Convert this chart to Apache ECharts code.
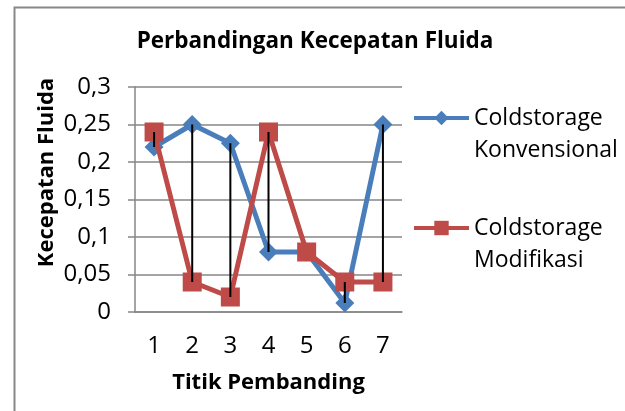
<!DOCTYPE html>
<html>
<head>
<meta charset="utf-8">
<script src="https://cdn.jsdelivr.net/npm/echarts@6/dist/echarts.min.js"></script>
<style>html,body{margin:0;padding:0;background:#fff}#c{width:625px;height:411px}</style>
</head>
<body>
<div id="c"></div>
<script>
var categories = ['1','2','3','4','5','6','7'];
var konvensional = [0.22, 0.25, 0.225, 0.08, 0.08, 0.012, 0.25];
var modifikasi = [0.24, 0.04, 0.02, 0.24, 0.08, 0.04, 0.04];
var yTicks = [0, 0.05, 0.1, 0.15, 0.2, 0.25, 0.3];
var seriesNames = ['Coldstorage\nKonvensional', 'Coldstorage\nModifikasi'];

var hiLo = categories.map(function (c, i) {
  return [i, Math.min(konvensional[i], modifikasi[i]), Math.max(konvensional[i], modifikasi[i])];
});

var FONT = '"Open Sans", "Noto Sans", sans-serif';
var chart = echarts.init(document.getElementById('c'), null, {renderer: 'canvas'});
chart.setOption({
  animation: false,
  backgroundColor: '#fff',
  textStyle: {fontFamily: FONT},
  graphic: [{
    type: 'rect', left: 12, top: 5,
    shape: {x: 0, y: 0, width: 700, height: 500},
    style: {fill: 'none', stroke: '#888888', lineWidth: 2}, z: -1
  }],
  title: {
    text: 'Perbandingan Kecepatan Fluida',
    left: 315, top: 30, textAlign: 'center', padding: 0,
    textStyle: {fontFamily: FONT, fontWeight: 'bold', fontSize: 22.5, color: '#000'}
  },
  legend: {
    orient: 'vertical', left: 412, top: 70, padding: 0,
    itemWidth: 55, itemHeight: 18, itemGap: 14,
    data: [seriesNames[0], seriesNames[1]],
    lineStyle: {width: 4},
    formatter: function (name) { return ' \n' + name; },
    textStyle: {fontFamily: FONT, fontSize: 23, color: '#000', lineHeight: 32}
  },
  grid: {left: 135, right: 223, top: 87, bottom: 99, containLabel: false},
  xAxis: {
    type: 'category', data: categories, boundaryGap: true,
    axisLine: {show: true, lineStyle: {color: '#868686', width: 1.5}},
    axisTick: {show: false},
    axisLabel: {fontFamily: FONT, fontSize: 24, color: '#000', margin: 22},
    name: 'Titik Pembanding', nameLocation: 'middle', nameGap: 60,
    nameTextStyle: {fontFamily: FONT, fontWeight: 'bold', fontSize: 22, color: '#000'}
  },
  yAxis: {
    type: 'value', min: 0, max: 0.3, interval: 0.05,
    axisLine: {show: true, lineStyle: {color: '#868686', width: 1.5}},
    axisTick: {show: true, length: 7, lineStyle: {color: '#868686', width: 1.5}},
    splitLine: {show: true, lineStyle: {color: '#868686', width: 1.5}},
    axisLabel: {
      fontFamily: FONT, fontSize: 24, color: '#000', margin: 24,
      formatter: function (v) {
        var s = yTicks.filter(function (t) { return Math.abs(t - v) < 1e-9; });
        return (s.length ? String(+s[0].toFixed(2)) : String(v)).replace('.', ',');
      }
    },
    name: 'Kecepatan Fluida', nameLocation: 'middle', nameGap: 77, nameRotate: 90,
    nameTextStyle: {fontFamily: FONT, fontWeight: 'bold', fontSize: 22, color: '#000', padding: [0, 0, 0, 54]}
  },
  series: [
    {
      name: seriesNames[0], type: 'line', data: konvensional,
      symbol: 'diamond', symbolSize: 19,
      lineStyle: {color: '#4A7EBB', width: 5},
      itemStyle: {color: '#4A7EBB'}, z: 3
    },
    {
      name: seriesNames[1], type: 'line', data: modifikasi,
      symbol: 'rect', symbolSize: 19,
      lineStyle: {color: '#BE4B48', width: 5},
      itemStyle: {color: '#BE4B48'}, z: 4
    },
    {
      type: 'custom', data: hiLo, z: 10, silent: true,
      renderItem: function (params, api) {
        var lo = api.coord([api.value(0), api.value(1)]);
        var hi = api.coord([api.value(0), api.value(2)]);
        return {
          type: 'line',
          shape: {x1: lo[0], y1: lo[1], x2: hi[0], y2: hi[1]},
          style: {stroke: '#000', lineWidth: 2}
        };
      }
    }
  ]
});
</script>
</body>
</html>
